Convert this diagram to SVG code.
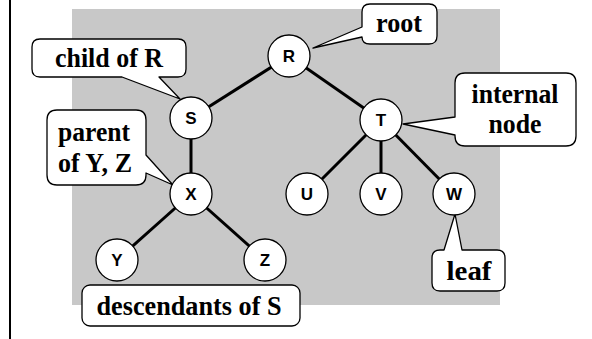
<svg xmlns="http://www.w3.org/2000/svg" width="592" height="339" viewBox="0 0 592 339">
  <style>
    .edge { stroke: #000; stroke-width: 3; fill: none; }
    .node circle { fill: #fff; stroke: #000; stroke-width: 1.3; }
    .node text { font-family: "Liberation Sans", Arial, sans-serif; font-weight: bold; font-size: 17px; text-anchor: middle; fill: #000; }
    .note path, .note rect { fill: #fff; stroke: #000; stroke-width: 1.3; stroke-linejoin: round; }
    .note text { font-family: "Liberation Serif", "Times New Roman", serif; font-weight: bold; font-size: 27px; text-anchor: middle; fill: #000; }
  </style>

  <!-- page margin rule and shaded panel -->
  <line x1="10" y1="0" x2="10" y2="339" stroke="#000" stroke-width="2"/>
  <rect x="72" y="9" width="428" height="296" fill="#c8c8c8"/>

  <!-- tree edges -->
  <g id="edges">
    <line class="edge" x1="289" y1="56" x2="191" y2="118"/>
    <line class="edge" x1="289" y1="56" x2="381" y2="120"/>
    <line class="edge" x1="191" y1="118" x2="191" y2="194"/>
    <line class="edge" x1="191" y1="194" x2="117" y2="260"/>
    <line class="edge" x1="191" y1="194" x2="265" y2="260"/>
    <line class="edge" x1="381" y1="120" x2="307" y2="194"/>
    <line class="edge" x1="381" y1="120" x2="381" y2="194"/>
    <line class="edge" x1="381" y1="120" x2="454" y2="194"/>
  </g>

  <!-- callouts -->
  <g id="note-child" class="note">
    <path d="M40,39 H178 Q186,39 186,47 V69 Q186,77 178,77 H159 L180,99 L122,77 H40 Q32,77 32,69 V47 Q32,39 40,39 Z"/>
    <text x="109" y="67" textLength="108" lengthAdjust="spacingAndGlyphs">child of R</text>
  </g>
  <g id="note-root" class="note">
    <path d="M370,4 H429 Q437,4 437,12 V36 Q437,44 429,44 H370 Q362,44 362,37 L313,48 L362,27 V12 Q362,4 370,4 Z"/>
    <text x="399" y="32" textLength="46" lengthAdjust="spacingAndGlyphs">root</text>
  </g>
  <g id="note-internal" class="note">
    <path d="M465,73 H566 Q576,73 576,83 V136 Q576,146 566,146 H465 Q455,146 455,136 V135 L403,124 L455,117 V83 Q455,73 465,73 Z"/>
    <text x="515" y="103" textLength="87" lengthAdjust="spacingAndGlyphs">internal</text>
    <text x="515" y="133" textLength="53" lengthAdjust="spacingAndGlyphs">node</text>
  </g>
  <g id="note-parent" class="note">
    <path d="M57,110 H136 Q146,110 146,120 V155 L173,185 L146,173 V175 Q146,185 136,185 H57 Q47,185 47,175 V120 Q47,110 57,110 Z"/>
    <text x="94" y="141" textLength="72" lengthAdjust="spacingAndGlyphs">parent</text>
    <text x="95" y="172" textLength="74" lengthAdjust="spacingAndGlyphs">of Y, Z</text>
  </g>
  <g id="note-leaf" class="note">
    <path d="M440,250 H444 L455,214 L462,250 H497 Q505,250 505,258 V283 Q505,291 497,291 H440 Q432,291 432,283 V258 Q432,250 440,250 Z"/>
    <text x="469" y="280" textLength="45" lengthAdjust="spacingAndGlyphs">leaf</text>
  </g>
  <g id="note-descendants" class="note">
    <rect x="82" y="285" width="218" height="41" rx="8" ry="8"/>
    <text x="189" y="315" textLength="185" lengthAdjust="spacingAndGlyphs">descendants of S</text>
  </g>

  <!-- tree nodes -->
  <g id="node-R" class="node"><circle cx="289" cy="56" r="21"/><text x="289" y="62">R</text></g>
  <g id="node-S" class="node"><circle cx="191" cy="118" r="21"/><text x="191" y="124">S</text></g>
  <g id="node-T" class="node"><circle cx="381" cy="120" r="21"/><text x="381" y="126">T</text></g>
  <g id="node-X" class="node"><circle cx="191" cy="194" r="21"/><text x="191" y="200">X</text></g>
  <g id="node-U" class="node"><circle cx="307" cy="194" r="21"/><text x="307" y="200">U</text></g>
  <g id="node-V" class="node"><circle cx="381" cy="194" r="21"/><text x="381" y="200">V</text></g>
  <g id="node-W" class="node"><circle cx="454" cy="194" r="21"/><text x="454" y="200">W</text></g>
  <g id="node-Y" class="node"><circle cx="117" cy="260" r="21"/><text x="117" y="266">Y</text></g>
  <g id="node-Z" class="node"><circle cx="265" cy="260" r="21"/><text x="265" y="266">Z</text></g>
</svg>
